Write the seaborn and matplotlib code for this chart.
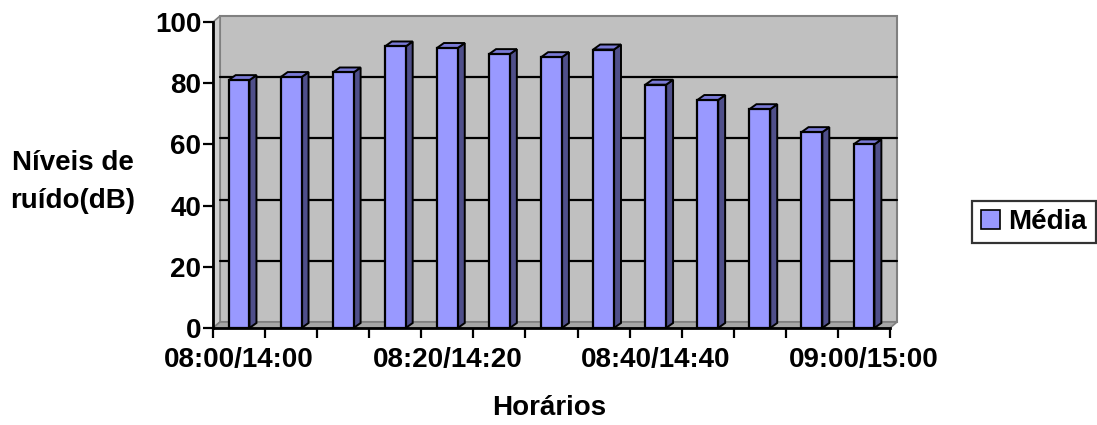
import matplotlib
matplotlib.use("Agg")
import matplotlib.pyplot as plt
import seaborn as sns
import pandas as pd
from matplotlib.patches import Polygon, Rectangle, Patch
from matplotlib.transforms import offset_copy, blended_transform_factory

# Sampling times (morning/afternoon sessions), every 5 minutes
horarios = ["08:00/14:00", "08:05/14:05", "08:10/14:10", "08:15/14:15",
            "08:20/14:20", "08:25/14:25", "08:30/14:30", "08:35/14:35",
            "08:40/14:40", "08:45/14:45", "08:50/14:50", "08:55/14:55",
            "09:00/15:00"]
media = [81, 82, 83.5, 92, 91.5, 89.5, 88.5, 91, 79.5, 74.5, 71.5, 64, 60]
serie = "Média"
yticks = [0, 20, 40, 60, 80, 100]

df = pd.DataFrame({"Horários": horarios, serie: media})

sns.set_theme(style="white")
plt.rcParams["font.family"] = ["Liberation Sans", "DejaVu Sans"]
plt.rcParams["font.weight"] = "bold"
plt.rcParams["text.color"] = "black"
plt.rcParams["xtick.color"] = "black"
plt.rcParams["ytick.color"] = "black"

W, H = 1097, 425
fig = plt.figure(figsize=(W / 100, H / 100), dpi=100)
ax_l, ax_b, ax_w, ax_h = 213, 97, 677, 306
ax = fig.add_axes([ax_l / W, ax_b / H, ax_w / W, ax_h / H])
ax.set_facecolor("none")

n = len(horarios)
ax.set_xlim(-0.5, n - 0.5)
ax.set_ylim(0, 100)

# depth of the 3-D box (pixels)
wx, wy = 7, 6
dxa, dya = wx / ax_w, wy / ax_h

front = "#9999FF"
side = "#4F4F8A"
top = "#7A7AD6"

# back wall, left wall and floor
ax.add_patch(Rectangle((dxa, dya), 1, 1, transform=ax.transAxes,
                       fc="#C0C0C0", ec="#808080", lw=1.5, zorder=0, clip_on=False))
ax.add_patch(Polygon([(0, 0), (dxa, dya), (dxa, 1 + dya), (0, 1)], closed=True,
                     transform=ax.transAxes, fc="#CFCFCF", ec="#808080", lw=1.2,
                     zorder=0.5, clip_on=False))
ax.add_patch(Polygon([(0, 0), (1, 0), (1 + dxa, dya), (dxa, dya)], closed=True,
                     transform=ax.transAxes, fc="#A6A6A6", ec="#808080", lw=1.2,
                     zorder=0.5, clip_on=False))

# gridlines on the back wall
gt = offset_copy(blended_transform_factory(ax.transAxes, ax.transData),
                 fig=fig, x=wx, y=wy, units="dots")
for v in yticks[1:-1]:
    ax.plot([0, 1], [v, v], color="black", lw=1.6, transform=gt, zorder=0.8,
            clip_on=False)

sns.barplot(data=df, x="Horários", y=serie, color=front, width=0.4,
            edgecolor="black", linewidth=1.6, saturation=1, ax=ax, zorder=3)

# side and top faces of each bar
bx, by = 7, 5
ddx = bx * n / ax_w
ddy = by * 100 / ax_h
for p in ax.patches:
    if not isinstance(p, Rectangle) or p.get_zorder() != 3:
        continue
    x0, w, h = p.get_x(), p.get_width(), p.get_height()
    x1 = x0 + w
    ax.add_patch(Polygon([(x1, 0), (x1 + ddx, ddy), (x1 + ddx, h + ddy), (x1, h)],
                         closed=True, fc=side, ec="black", lw=1.4, zorder=2.9,
                         clip_on=False))
    ax.add_patch(Polygon([(x0, h), (x0 + ddx, h + ddy), (x1 + ddx, h + ddy), (x1, h)],
                         closed=True, fc=top, ec="black", lw=1.4, zorder=2.9,
                         clip_on=False))

for s in ["top", "right"]:
    ax.spines[s].set_visible(False)
for s in ["left", "bottom"]:
    ax.spines[s].set_color("black")
    ax.spines[s].set_linewidth(2)
    ax.spines[s].set_zorder(5)

fs = 20
ax.set_yticks(yticks)
ax.set_yticklabels([str(v) for v in yticks], fontsize=fs, fontweight="bold")
ax.tick_params(axis="y", direction="out", length=7, width=1.6, color="black",
               pad=1.5, left=True)

major = [0, 4, 8, 12]
ax.set_xticks(major)
ax.set_xticklabels([horarios[i] for i in major], fontsize=fs, fontweight="bold")
ax.set_xticks([i - 0.5 for i in range(n + 1)], minor=True)
ax.tick_params(axis="x", which="major", length=0, pad=14)
ax.tick_params(axis="x", which="minor", direction="out", length=7, width=1.6,
               color="black", bottom=True)
ax.set_xlabel("")
ax.set_ylabel("")

fig.text(73 / W, 1 - 182 / H, "Níveis de\nruído(dB)", ha="center", va="center",
         fontsize=fs, fontweight="bold", linespacing=1.6)
fig.text(549 / W, 1 - 408 / H, "Horários", ha="center", va="center",
         fontsize=fs, fontweight="bold")

leg = fig.legend(handles=[Patch(facecolor=front, edgecolor="black", lw=1.2, label=serie)],
                 loc="center", bbox_to_anchor=(1034 / W, 1 - 222 / H),
                 fancybox=False, frameon=True, edgecolor="black",
                 handlelength=0.7, handleheight=0.7, handletextpad=0.3,
                 borderpad=0.3, borderaxespad=0, prop={"size": fs, "weight": "bold"})
leg.get_frame().set_linewidth(1.6)

fig.savefig("out.png", dpi=100, facecolor="white")
